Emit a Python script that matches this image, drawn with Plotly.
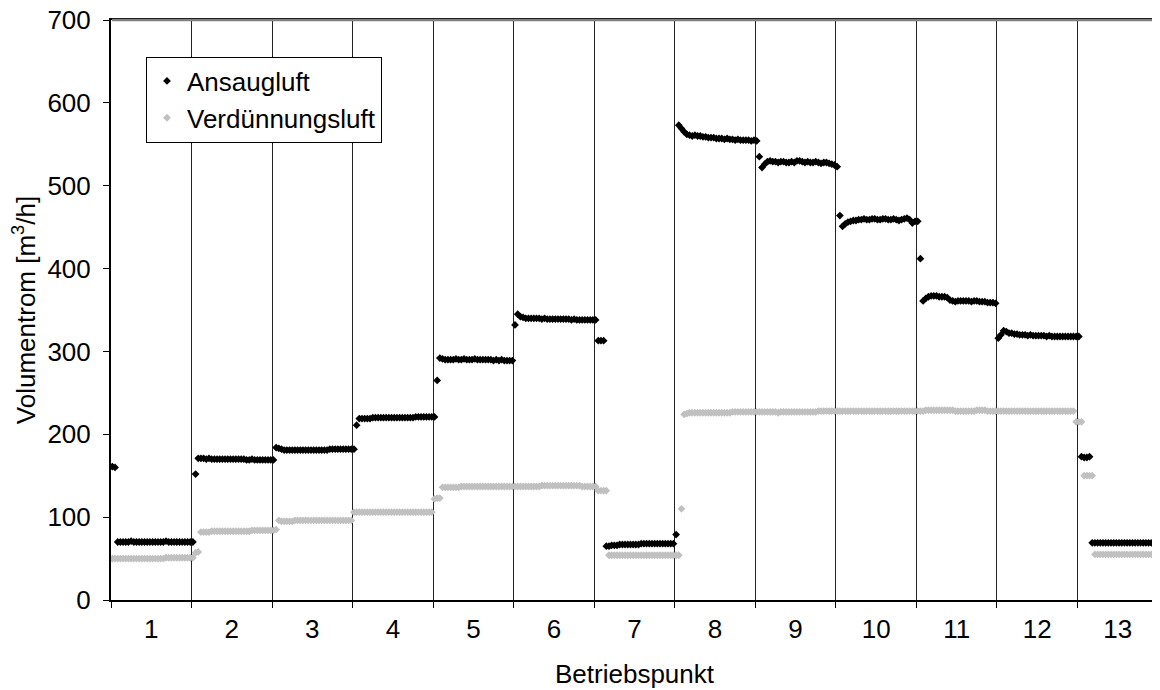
import plotly.graph_objects as go

# ---------------- data ----------------
betriebspunkte = ["1", "2", "3", "4", "5", "6", "7", "8", "9", "10", "11", "12", "13"]
samples_per_point = 30

# Ansaugluft, volume flow [m3/h], 30 samples per operating point
ansaug_1 = [161, 160, 70, 70, 70, 70, 70, 71, 70, 70,
            70, 70, 70, 70, 70, 70, 70, 70, 70, 70,
            71, 70, 70, 70, 70, 70, 70, 70, 70, 70]
ansaug_2 = [70, 152, 171, 171, 171, 170, 171, 170, 170, 170,
            170, 170, 170, 170, 170, 170, 170, 170, 170, 170,
            169, 169, 170, 169, 169, 169, 169, 169, 169, 169]
ansaug_3 = [169, 184, 183, 182, 181, 181, 181, 181, 181, 181,
            181, 181, 181, 181, 181, 181, 181, 181, 181, 181,
            181, 182, 182, 182, 182, 182, 182, 182, 182, 182]
ansaug_4 = [182, 211, 219, 219, 219, 219, 219, 220, 220, 220,
            220, 220, 220, 220, 220, 220, 220, 220, 220, 220,
            220, 220, 220, 221, 221, 221, 221, 221, 221, 221]
ansaug_5 = [221, 265, 292, 291, 290, 290, 290, 290, 291, 290,
            290, 291, 290, 290, 290, 291, 290, 290, 290, 290,
            290, 290, 289, 290, 289, 290, 289, 289, 289, 289]
ansaug_6 = [332, 345, 342, 341, 340, 340, 340, 340, 340, 340,
            339, 340, 339, 339, 339, 339, 339, 339, 339, 339,
            339, 338, 339, 338, 338, 338, 338, 338, 338, 338]
ansaug_7 = [338, 313, 313, 313, 65, 65, 66, 66, 66, 67,
            67, 67, 67, 67, 67, 67, 67, 68, 68, 68,
            68, 68, 68, 68, 68, 68, 68, 68, 68, 68]
ansaug_8 = [79, 573, 569, 565, 562, 561, 560, 561, 560, 560,
            559, 559, 558, 558, 558, 557, 557, 557, 556, 557,
            556, 556, 555, 556, 555, 555, 555, 555, 554, 555]
ansaug_9 = [554, 535, 522, 526, 529, 530, 529, 529, 528, 529,
            529, 528, 528, 529, 528, 530, 530, 529, 528, 529,
            528, 528, 529, 528, 527, 528, 528, 527, 526, 525]
ansaug_10 = [523, 464, 451, 454, 456, 457, 458, 458, 459, 459,
             460, 459, 459, 460, 460, 459, 459, 460, 460, 459,
             459, 460, 459, 458, 459, 460, 461, 459, 455, 457]
ansaug_11 = [457, 412, 361, 364, 366, 367, 367, 367, 366, 366,
             366, 365, 362, 361, 360, 361, 361, 361, 361, 361,
             360, 361, 361, 360, 360, 360, 359, 359, 359, 358]
ansaug_12 = [316, 320, 325, 324, 322, 322, 321, 321, 320, 320,
             320, 319, 320, 319, 319, 319, 319, 319, 318, 319,
             318, 318, 318, 318, 318, 318, 318, 318, 318, 318]
ansaug_13 = [318, 173, 172, 172, 173, 69, 69, 69, 69, 69,
             69, 69, 69, 69, 69, 69, 69, 69, 69, 69,
             69, 69, 69, 69, 69, 69, 69, 69, 69, 69]

# Verduennungsluft, volume flow [m3/h]
verd_1 = [50, 50, 50, 50, 50, 50, 50, 50, 50, 50,
          50, 50, 50, 50, 50, 50, 50, 50, 50, 50,
          51, 51, 51, 51, 51, 51, 51, 51, 51, 51]
verd_2 = [51, 57, 58, 82, 82, 82, 82, 83, 83, 83,
          83, 83, 83, 83, 83, 83, 83, 83, 83, 83,
          83, 83, 84, 84, 84, 84, 84, 84, 84, 84]
verd_3 = [84, 85, 96, 95, 95, 95, 95, 95, 96, 96,
          96, 96, 96, 96, 96, 96, 96, 96, 96, 96,
          96, 96, 96, 96, 96, 96, 96, 96, 96, 96]
verd_4 = [106, 106, 106, 106, 106, 106, 106, 106, 106, 106,
          106, 106, 106, 106, 106, 106, 106, 106, 106, 106,
          106, 106, 106, 106, 106, 106, 106, 106, 106, 106]
verd_5 = [122, 123, 123, 136, 136, 136, 136, 136, 136, 136,
          137, 137, 137, 137, 137, 137, 137, 137, 137, 137,
          137, 137, 137, 137, 137, 137, 137, 137, 137, 137]
verd_6 = [137, 137, 137, 137, 137, 137, 137, 137, 137, 137,
          138, 138, 138, 138, 138, 138, 138, 138, 138, 138,
          138, 138, 138, 138, 138, 137, 137, 137, 137, 137]
verd_7 = [137, 132, 132, 132, 132, 54, 54, 54, 54, 54,
          54, 54, 54, 54, 54, 54, 54, 54, 54, 54,
          54, 54, 54, 54, 54, 54, 54, 54, 54, 54]
verd_8 = [54, 54, 110, 224, 225, 226, 226, 226, 226, 226,
          226, 226, 226, 226, 226, 226, 226, 226, 226, 226,
          226, 227, 227, 227, 227, 227, 227, 227, 227, 227]
verd_9 = [227, 227, 227, 227, 227, 227, 227, 227, 226, 227,
          227, 227, 227, 227, 227, 227, 227, 227, 227, 227,
          227, 227, 227, 228, 228, 228, 228, 228, 228, 228]
verd_10 = [228, 228, 228, 228, 228, 228, 228, 228, 228, 228,
           228, 228, 228, 228, 228, 228, 228, 228, 228, 228,
           228, 228, 228, 228, 228, 228, 228, 228, 228, 228]
verd_11 = [228, 228, 228, 229, 229, 229, 229, 229, 229, 229,
           229, 229, 229, 229, 228, 228, 228, 228, 228, 228,
           228, 228, 229, 229, 229, 229, 228, 228, 228, 228]
verd_12 = [228, 228, 228, 228, 228, 228, 228, 228, 228, 228,
           228, 228, 228, 228, 228, 228, 228, 228, 228, 228,
           228, 228, 228, 228, 228, 228, 228, 228, 228, 215]
verd_13 = [215, 215, 150, 150, 150, 150, 55, 55, 55, 55,
           55, 55, 55, 55, 55, 55, 55, 55, 55, 55,
           55, 55, 55, 55, 55, 55, 55, 55, 55, 55]

ansaug_segments = [ansaug_1, ansaug_2, ansaug_3, ansaug_4, ansaug_5, ansaug_6, ansaug_7,
                   ansaug_8, ansaug_9, ansaug_10, ansaug_11, ansaug_12, ansaug_13]
verd_segments = [verd_1, verd_2, verd_3, verd_4, verd_5, verd_6, verd_7,
                 verd_8, verd_9, verd_10, verd_11, verd_12, verd_13]
for s in ansaug_segments + verd_segments:
    assert len(s) == samples_per_point, len(s)

ansaugluft = [v for seg in ansaug_segments for v in seg]
verduennungsluft = [v for seg in verd_segments for v in seg]
sample = list(range(len(ansaugluft)))

n_pts = len(betriebspunkte)
boundaries = [k * samples_per_point - 0.5 for k in range(n_pts + 1)]
centers = [k * samples_per_point + (samples_per_point - 1) / 2 for k in range(n_pts)]

FONT = "Liberation Sans, Arial, sans-serif"
FS = 26

fig = go.Figure()
fig.add_trace(go.Scatter(
    x=sample, y=ansaugluft, mode="markers", name="Ansaugluft",
    marker=dict(symbol="diamond", size=6, color="#000000", line=dict(width=0)),
))
fig.add_trace(go.Scatter(
    x=sample, y=verduennungsluft, mode="markers", name="Verdünnungsluft",
    marker=dict(symbol="diamond", size=6, color="#C0C0C0", line=dict(width=0)),
))

# the page body adds an 8 px margin, so the figure is sized to fit inside the window
fig.update_layout(
    width=1152, height=682,
    margin=dict(l=103, r=2, t=12, b=90, autoexpand=False),
    paper_bgcolor="white", plot_bgcolor="white",
    font=dict(family=FONT, size=FS, color="black"),
    showlegend=True,
    legend=dict(
        x=0.0334, y=0.937, xanchor="left", yanchor="top",
        bgcolor="white", bordercolor="black", borderwidth=1,
        font=dict(family=FONT, size=FS, color="black"),
        itemwidth=30, tracegroupgap=0,
    ),
    xaxis=dict(
        automargin=False,
        range=[boundaries[0], boundaries[-1]],
        tickmode="array", tickvals=centers, ticktext=betriebspunkte,
        ticks="", showgrid=False, zeroline=False,
        showline=True, linecolor="black", linewidth=2, mirror=True,
        ticklabelstandoff=5, ticklabeloverflow="allow",
        tickfont=dict(family=FONT, size=FS, color="black"),
        minor=dict(tickmode="array", tickvals=boundaries, ticks="outside",
                   ticklen=6, tickwidth=1, tickcolor="black",
                   showgrid=True, gridcolor="#222222", gridwidth=1),
        title=dict(text="Betriebspunkt", font=dict(family=FONT, size=FS), standoff=22),
    ),
    yaxis=dict(
        automargin=False,
        range=[0, 700], tickmode="linear", tick0=0, dtick=100,
        ticks="outside", ticklen=6, tickwidth=1, tickcolor="black",
        ticklabelstandoff=7, ticklabeloverflow="allow",
        showgrid=False, zeroline=False,
        showline=True, linecolor="black", linewidth=2, mirror=True,
        tickfont=dict(family=FONT, size=FS, color="black"),
        title=dict(text="Volumentrom [m<sup>3</sup>/h]", font=dict(family=FONT, size=FS), standoff=4),
    ),
    shapes=[
        dict(type="line", xref="paper", yref="paper", x0=0.001, x1=1, y0=1, y1=1,
             layer="above", line=dict(color="#808080", width=2.5)),
        dict(type="line", xref="paper", yref="paper", x0=1, x1=1, y0=0, y1=1,
             layer="above", line=dict(color="#808080", width=2.5)),
    ],
)

fig.write_html("out.html")
